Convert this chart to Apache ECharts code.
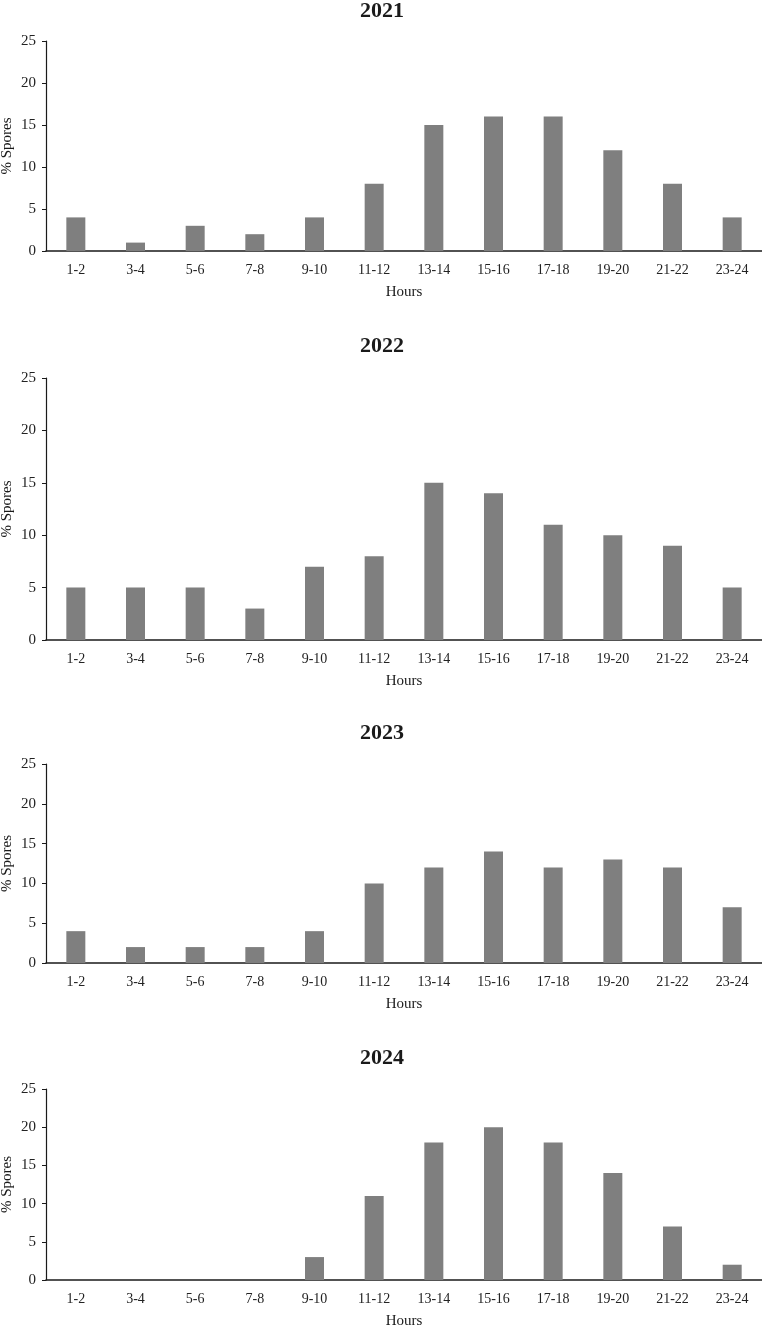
<!DOCTYPE html>
<html lang="en">
<head>
    <meta charset="UTF-8">
    <title>% Spores by hour</title>
    <script src="https://cdn.jsdelivr.net/npm/echarts@6/dist/echarts.min.js"></script>
    <style>
        html, body { margin: 0; padding: 0; background: #fff; }
        #main { width: 762px; height: 1326px; }
    </style>
</head>
<body>
<div id="main"></div>
<script>
// data
const hours = ['1-2', '3-4', '5-6', '7-8', '9-10', '11-12', '13-14', '15-16', '17-18', '19-20', '21-22', '23-24'];
const years = ['2021', '2022', '2023', '2024'];
const spores2021 = [4, 1, 3, 2, 4, 8, 15, 16, 16, 12, 8, 4];
const spores2022 = [5, 5, 5, 3, 7, 8, 15, 14, 11, 10, 9, 5];
const spores2023 = [4, 2, 2, 2, 4, 10, 12, 14, 12, 13, 12, 7];
const spores2024 = [0, 0, 0, 0, 3, 11, 18, 20, 18, 14, 7, 2];
const yTicks = [0, 5, 10, 15, 20, 25];

const allData = [spores2021, spores2022, spores2023, spores2024];

// panel layout (px)
const panels = [
    { titleTop: -5,   top: 41,   height: 210 },
    { titleTop: 330,  top: 378,  height: 262 },
    { titleTop: 717,  top: 764,  height: 199 },
    { titleTop: 1042, top: 1089, height: 191 }
];

const font = 'Liberation Serif';
const ink = '#1a1a1a';

var chart = echarts.init(document.getElementById('main'));

var option = {
    backgroundColor: '#fff',
    animation: false,
    textStyle: { fontFamily: font },
    title: [],
    grid: [],
    xAxis: [],
    yAxis: [],
    series: []
};

panels.forEach(function (p, i) {
    option.title.push({
        text: years[i],
        left: 377,
        top: p.titleTop,
        textAlign: 'center',
        textStyle: { fontFamily: font, fontSize: 22, fontWeight: 'bold', color: ink }
    });
    option.grid.push({
        left: 46, right: 0, top: p.top, height: p.height,
        containLabel: false,
        outerBoundsMode: 'none'
    });
    option.xAxis.push({
        type: 'category',
        gridIndex: i,
        data: hours,
        name: 'Hours',
        nameLocation: 'middle',
        nameGap: 34,
        nameMoveOverlap: false,
        nameTextStyle: { fontFamily: font, fontSize: 15, color: ink },
        axisLine: { lineStyle: { color: ink, width: 1.5 } },
        axisTick: { show: false },
        axisLabel: { fontFamily: font, fontSize: 14, color: '#222', margin: 12, interval: 0 }
    });
    option.yAxis.push({
        type: 'value',
        gridIndex: i,
        min: yTicks[0],
        max: yTicks[yTicks.length - 1],
        interval: 5,
        name: '% Spores',
        nameLocation: 'middle',
        nameGap: 31,
        nameMoveOverlap: false,
        nameTextStyle: { fontFamily: font, fontSize: 15, color: ink },
        axisLine: { show: true, lineStyle: { color: ink, width: 1.2 } },
        axisTick: { show: true, length: 4, lineStyle: { color: ink } },
        axisLabel: { fontFamily: font, fontSize: 15, color: '#222', margin: 10 },
        splitLine: { show: false }
    });
    option.series.push({
        type: 'bar',
        xAxisIndex: i,
        yAxisIndex: i,
        data: allData[i],
        barWidth: 19,
        itemStyle: { color: '#7f7f7f' }
    });
});

chart.setOption(option);
</script>
</body>
</html>
